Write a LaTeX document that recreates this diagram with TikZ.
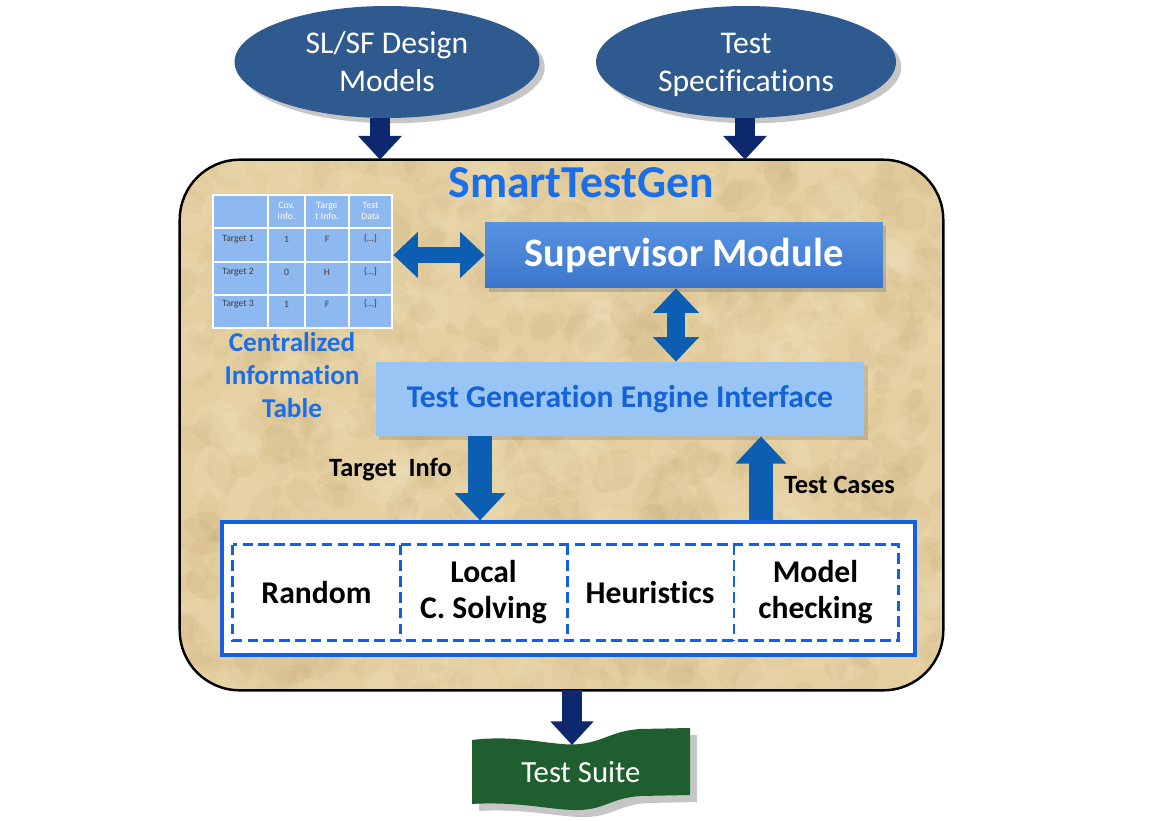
\documentclass[tikz,border=0pt]{standalone}
\usepackage{fontspec}
\setmainfont[Ligatures=NoCommon]{Carlito}
\usetikzlibrary{shapes.geometric,arrows.meta,shadows,calc}

\definecolor{ellblue}{RGB}{47,90,143}
\definecolor{navy}{RGB}{14,40,110}
\definecolor{medblue}{RGB}{12,94,178}
\definecolor{supTop}{RGB}{88,146,226}
\definecolor{supBot}{RGB}{58,118,204}
\definecolor{engFill}{RGB}{153,197,245}
\definecolor{engText}{RGB}{20,99,214}
\definecolor{titleBlue}{RGB}{26,111,232}
\definecolor{tblBlue}{RGB}{142,184,240}
\definecolor{algBlue}{RGB}{21,96,224}
\definecolor{suiteGreen}{RGB}{31,95,47}
\definecolor{tan}{RGB}{228,207,160}
\definecolor{tanDark}{RGB}{185,150,95}
\definecolor{tanLight}{RGB}{246,235,205}

\begin{document}
\begin{tikzpicture}[x=0.02cm,y=-0.02cm,
  inputell/.style={ellipse, fill=ellblue, text=white, align=center,
    minimum width=6.1cm, minimum height=2.24cm, inner sep=0pt,
    font=\fontsize{18}{21.5}\selectfont,
    drop shadow={opacity=0.45, shadow xshift=3pt, shadow yshift=-3pt}},
  elltext/.style={text=white, align=center, font=\fontsize{18}{21.5}\selectfont},
  navyarrow/.style={draw=navy, line width=11.3pt, -{Triangle[width=24pt,length=13.5pt]}},
  dblarrow/.style={draw=medblue, {Triangle[width=25.5pt,length=14pt]}-{Triangle[width=25.5pt,length=14pt]}},
  medarrow/.style={draw=medblue, line width=14pt, -{Triangle[width=28pt,length=15.5pt]}},
  tblhead/.style={text=white, align=center, inner sep=0pt, font=\fontsize{5.5}{6.3}\selectfont},
  tblcell/.style={text=black!75, inner sep=0pt, font=\fontsize{5.5}{6.3}\selectfont},
  algcell/.style={minimum width=3.34cm, minimum height=1.9cm, inner sep=0pt, align=center,
    font=\bfseries\fontsize{18}{20.5}\selectfont},
  dashblue/.style={draw=algBlue, line width=1.5pt, dash pattern=on 6pt off 3pt},
  lbl/.style={font=\bfseries\fontsize{15}{18}\selectfont, text=black}
]
\useasboundingbox (0,0) rectangle (1174,821);

% ---- input models ----
\node[inputell] (ell1) at (387,62) {SL/SF Design\\Models};
\node[inputell, minimum width=6.0cm] (ell2) at (746,62) {};
\node[elltext] (ell2t) at ($(ell2.center)+(0,3)$) {Test\\Specifications};

% ---- main SmartTestGen frame ----
\node[rounded corners=1.2cm, fill=tan, minimum width=15.26cm, minimum height=10.6cm,
      inner sep=0pt] (main) at (561.5,425) {};
\begin{scope}
  \clip[rounded corners=1.2cm] (180,160) rectangle (943,690);
  \pgfmathsetseed{4217}
  % parchment mottling
  \foreach \i in {1,...,650}{
    \pgfmathsetmacro\xx{180+763*rnd}
    \pgfmathsetmacro\yy{160+530*rnd}
    \pgfmathsetmacro\rr{4+22*rnd}
    \pgfmathsetmacro\rs{0.4+0.6*rnd}
    \pgfmathsetmacro\ang{180*rnd}
    \fill[tanDark, opacity=0.07, rotate around={\ang:(\xx,\yy)}] (\xx,\yy) ellipse[x radius=\rr*0.02cm, y radius=\rr*\rs*0.02cm];
  }
  \foreach \i in {1,...,380}{
    \pgfmathsetmacro\xx{180+763*rnd}
    \pgfmathsetmacro\yy{160+530*rnd}
    \pgfmathsetmacro\rr{5+25*rnd}
    \pgfmathsetmacro\rs{0.4+0.6*rnd}
    \pgfmathsetmacro\ang{180*rnd}
    \fill[tanLight, opacity=0.12, rotate around={\ang:(\xx,\yy)}] (\xx,\yy) ellipse[x radius=\rr*0.02cm, y radius=\rr*\rs*0.02cm];
  }
\end{scope}
\draw[black, line width=1.4pt, rounded corners=1.2cm] (main.north west) rectangle (main.south east);

\node[font=\bfseries\fontsize{26}{30}\selectfont, text=titleBlue] (title) at (581,183) {SmartTestGen};

% ---- centralized information table ----
\node[fill=tblBlue, minimum width=3.58cm, minimum height=2.66cm, inner sep=0pt] (tbl) at (302.5,261.5) {};
\foreach \x in {268,305,349}{ \draw[white, line width=1.1pt] (\x,195) -- (\x,328); }
\foreach \y in {228,262,295}{ \draw[white, line width=1.1pt] (213,\y) -- (392,\y); }
\draw[white, line width=1.1pt] (213,195) rectangle (392,328);

\node[tblhead] (h2) at (286.5,211) {Cov.\\Info.};
\node[tblhead] (h3) at (327,211) {Targe\\t Info.};
\node[tblhead] (h4) at (370.5,211) {Test\\Data};
\foreach \r/\y/\v/\w in {1/239/1/F, 2/272/0/H, 3/304/1/F}{
  \node[tblcell] (ta\r) at (238,\y) {Target \r};
  \node[tblcell] (tb\r) at (286.5,\y) {\v};
  \node[tblcell] (tc\r) at (327,\y) {\w};
  \node[tblcell] (td\r) at (370.5,\y) {\{\ldots\}};
}
\node[align=center, text=titleBlue, font=\bfseries\fontsize{15.5}{18.7}\selectfont] (cit) at (292,375)
  {Centralized\\Information\\Table};

% ---- supervisor and engine interface ----
\node[top color=supTop, bottom color=supBot, minimum width=7.96cm, minimum height=1.32cm,
      text=white, font=\bfseries\fontsize{23}{26}\selectfont,
      drop shadow={opacity=0.4, shadow xshift=2pt, shadow yshift=-2pt}] (sup) at (684,255) {Supervisor Module};
\node[fill=engFill, minimum width=9.78cm, minimum height=1.48cm, text=engText,
      font=\bfseries\fontsize{18}{21}\selectfont,
      drop shadow={opacity=0.3, shadow xshift=2pt, shadow yshift=-2pt}] (tgei) at (620,399) {Test Generation Engine Interface};

\draw[dblarrow, line width=9pt] (sup.west -| tbl.east) ++(1,0) coordinate (hs) (hs) -- (sup.west);
\coordinate (vx) at (676,0);
\draw[dblarrow, line width=10pt] (sup.south -| vx) -- (tgei.north -| vx);

% ---- test generation engines ----
\node[fill=white, draw=algBlue, line width=1.8pt, minimum width=13.86cm, minimum height=2.66cm,
      inner sep=0pt] (alg) at (568.5,588.5) {};
\node[algcell] (e1) at (316.5,592.5) {Random};
\node[algcell] (e2) at (483.5,592.5) {Local\\C. Solving};
\node[algcell] (e3) at (650,592.5) {Heuristics};
\node[algcell, minimum width=3.30cm] (e4) at (815.5,592.5) {Model\\checking};
\draw[dashblue] (e1.north west) rectangle (e4.south east);
\draw[dashblue] (e1.north east) -- (e1.south east);
\draw[dashblue] (e2.north east) -- (e2.south east);
\draw[dashblue] (e3.north east) -- (e3.south east);

\coordinate (tix) at (480,0);
\coordinate (tcx) at (761,0);
\draw[medarrow] (tgei.south -| tix) -- (alg.north -| tix);
\draw[medarrow] (alg.north -| tcx) -- (tgei.south -| tcx);
\node[lbl, anchor=east] (til) at (458,470) {Target\ \ Info};
\node[lbl, anchor=west] (tcl) at (778,485) {Test Cases};

% ---- inputs into the frame ----
\coordinate (i1x) at (380,0);
\coordinate (i2x) at (745,0);
\draw[navyarrow] (ell1.south -| i1x) -- (main.north -| i1x);
\draw[navyarrow] (ell2.south -| i2x) -- (main.north -| i2x);

% ---- test suite banner ----
\fill[suiteGreen, drop shadow={opacity=0.45, shadow xshift=4pt, shadow yshift=-4pt}]
  (472,740) .. controls (520,734) and (555,747) .. (580,744)
  .. controls (605,741) and (612,731) .. (640,729) -- (690,728)
  -- (690,795)
  -- (640,796) .. controls (612,798) and (605,809) .. (580,810)
  .. controls (555,811) and (520,801) .. (472,804) -- cycle;
\node[text=white, font=\fontsize{17.5}{20}\selectfont] (suite) at (581,772) {Test Suite};
\coordinate (ox) at (572,0);
\coordinate (bantop) at (572,745);
\draw[navyarrow] (main.south -| ox) -- (bantop);
\end{tikzpicture}
\end{document}
